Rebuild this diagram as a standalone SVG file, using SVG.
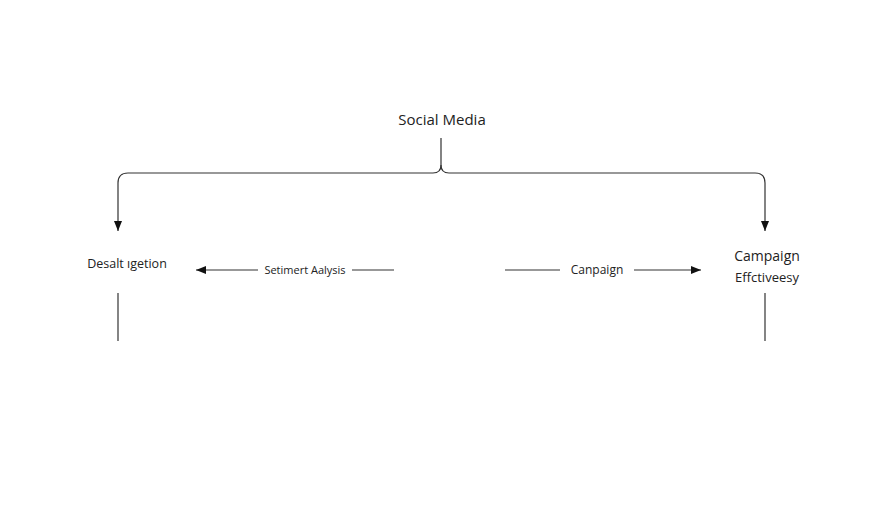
<svg xmlns="http://www.w3.org/2000/svg" width="896" height="512" viewBox="0 0 896 512">
<defs>
<style>
text{font-family:"Open Sans","Liberation Sans",sans-serif;fill:#222}
.l{stroke:#333;stroke-width:1.2;fill:none}
.s{font-size:12px}
</style>
<marker id="ah" viewBox="0 0 10 10" refX="10" refY="5" markerWidth="10" markerHeight="10" markerUnits="userSpaceOnUse" orient="auto">
<path d="M0,1 L10,5 L0,9 Z" fill="#111"/>
</marker>
</defs>
<rect width="896" height="512" fill="#fff"/>
<g id="connectors">
<path class="l" d="M441,138 V165 Q441,173 433,173 H128 Q118,173 118,183 V231" marker-end="url(#ah)"/>
<path class="l" d="M441,165 Q441,173 449,173 H755 Q765,173 765,183 V231" marker-end="url(#ah)"/>
<path class="l" d="M258,270 H196" marker-end="url(#ah)"/>
<path class="l" d="M352,270 H394"/>
<path class="l" d="M505,270 H560"/>
<path class="l" d="M634,270 H701" marker-end="url(#ah)"/>
<path class="l" d="M118,293 V341"/>
<path class="l" d="M765,293 V341"/>
</g>
<g id="social-media"><text x="442" y="125" text-anchor="middle" font-size="15">Social Media</text></g>
<g id="desalt"><text x="127" y="268" text-anchor="middle" font-size="12.5">Desalt ıgetion</text></g>
<g id="sentiment"><text x="305" y="274" text-anchor="middle" font-size="11">Setimert Aalysis</text></g>
<g id="campaign-label"><text class="s" x="597" y="274" text-anchor="middle">Canpaign</text></g>
<g id="campaign-effectiveness">
<text x="767" y="261" text-anchor="middle" font-size="14">Campaign</text>
<text x="767" y="282" text-anchor="middle" font-size="13">Effctiveesy</text>
</g>
</svg>
